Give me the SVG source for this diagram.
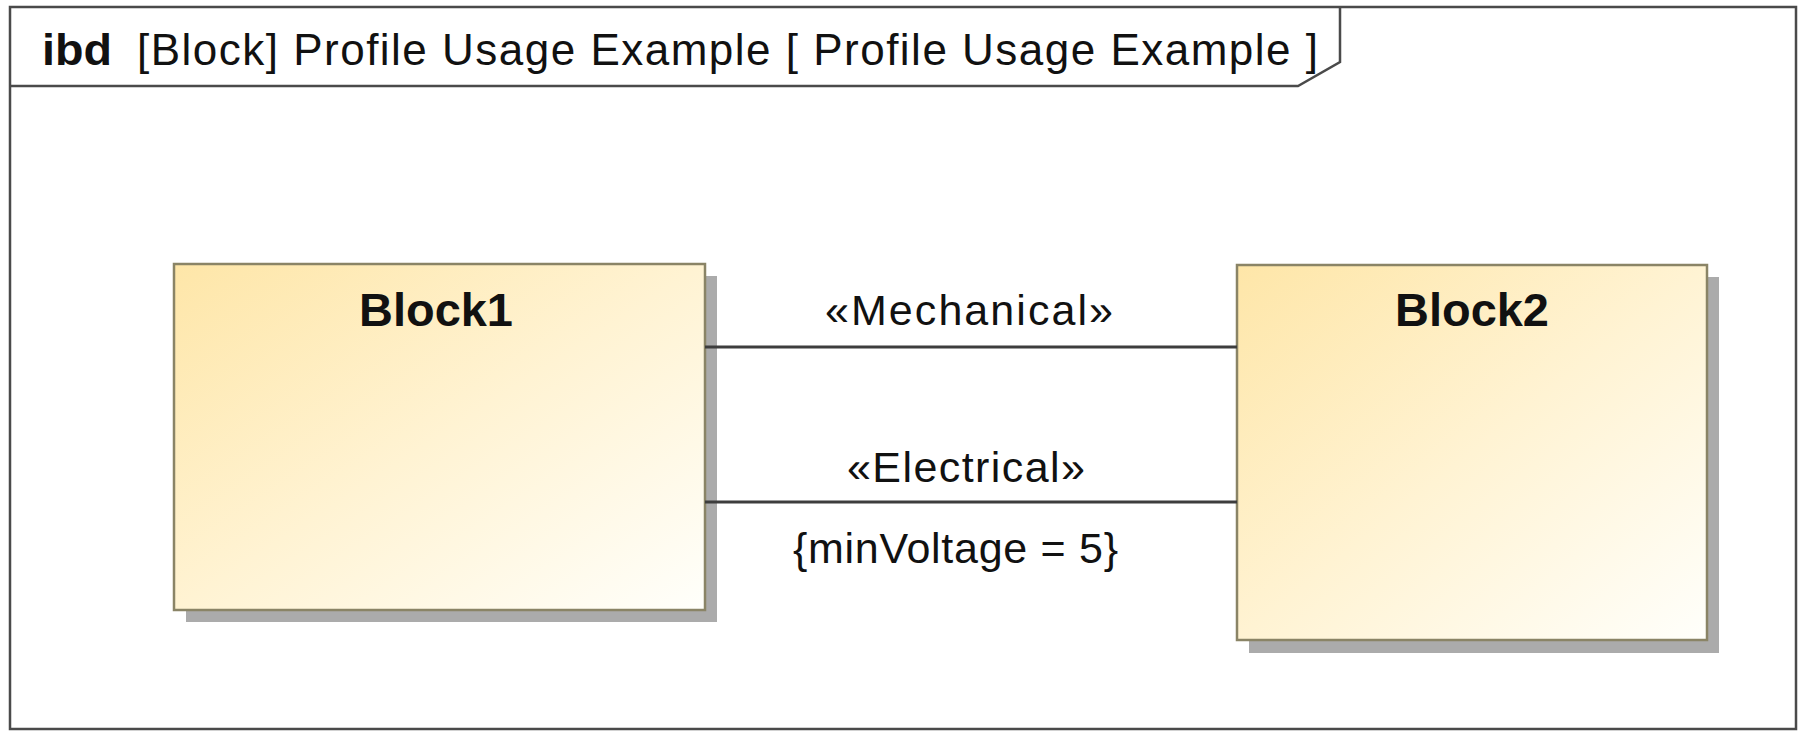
<svg xmlns="http://www.w3.org/2000/svg" width="1801" height="731" viewBox="0 0 1801 731">
  <style>
    .frame { fill: none; stroke: #4a4a4a; stroke-width: 2.5; }
    .title { font-family: "Liberation Sans", Arial, sans-serif; font-size: 44px; fill: #111; }
    .block { fill: url(#blockFill); stroke: #8a8466; stroke-width: 2.5; }
    .shadow { fill: #ababab; }
    .bname { font-family: "Liberation Sans", Arial, sans-serif; font-size: 46px; font-weight: bold; fill: #111; }
    .conn { stroke: #3d3d3d; stroke-width: 3; fill: none; }
    .label { font-family: "Liberation Sans", Arial, sans-serif; font-size: 43px; fill: #111; }
  </style>
  <defs>
    <linearGradient id="blockFill" x1="0" y1="0" x2="1" y2="1">
      <stop offset="0" stop-color="#fee6a8"/>
      <stop offset="0.5" stop-color="#fff3d3"/>
      <stop offset="1" stop-color="#fffffb"/>
    </linearGradient>
  </defs>
  <rect x="0" y="0" width="1801" height="731" fill="#ffffff"/>

  <g id="frame">
    <rect class="frame" x="10" y="7" width="1786" height="722" fill="#ffffff"/>
    <path class="frame" d="M10,86 L1298,86 L1340,62 L1340,7"/>
    <text class="title" y="65"><tspan x="42" font-weight="bold" textLength="70" lengthAdjust="spacingAndGlyphs">ibd</tspan><tspan x="137" textLength="1181" lengthAdjust="spacing">[Block] Profile Usage Example [ Profile Usage Example ]</tspan></text>
  </g>

  <g id="block1">
    <rect class="shadow" x="186" y="276" width="531" height="346"/>
    <rect class="block" x="174" y="264" width="531" height="346"/>
    <text class="bname" x="359" y="326" textLength="154" lengthAdjust="spacingAndGlyphs">Block1</text>
  </g>

  <g id="block2">
    <rect class="shadow" x="1249" y="277" width="470" height="376"/>
    <rect class="block" x="1237" y="265" width="470" height="375"/>
    <text class="bname" x="1395" y="326" textLength="154" lengthAdjust="spacingAndGlyphs">Block2</text>
  </g>

  <g id="connectors">
    <line class="conn" x1="705" y1="347" x2="1237" y2="347"/>
    <line class="conn" x1="705" y1="502" x2="1237" y2="502"/>
    <text class="label" x="825" y="325" textLength="288" lengthAdjust="spacing">«Mechanical»</text>
    <text class="label" x="847" y="482" textLength="238" lengthAdjust="spacing">«Electrical»</text>
    <text class="label" x="793" y="563" textLength="325" lengthAdjust="spacing">{minVoltage = 5}</text>
  </g>
</svg>
